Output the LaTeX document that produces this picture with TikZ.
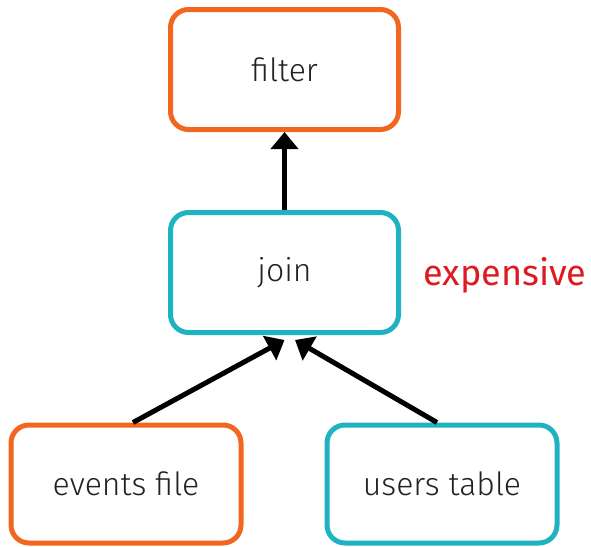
\documentclass[tikz,border=0pt]{standalone}
\usepackage{fontspec}
\setmainfont{Fira Sans}
\newfontfamily\lightfont{Fira Sans Light}
\usetikzlibrary{arrows.meta}
\definecolor{borange}{HTML}{F2671F}
\definecolor{bteal}{HTML}{1FB3C1}
\definecolor{ered}{HTML}{DD1A22}
\definecolor{txt}{HTML}{222222}
\tikzset{
  box/.style={draw=#1, rectangle, rounded corners=18pt, line width=5pt,
    minimum width=228pt, minimum height=120pt, text=txt, font=\lightfont\fontsize{32}{36}\selectfont, inner sep=0pt},
  arr/.style={line width=5pt, -{Triangle[width=27pt,length=17pt]}}
}
\begin{document}
\begin{tikzpicture}[x=1pt,y=-1pt]
\useasboundingbox (0,0) rectangle (591,546);
\node[box=borange] (filter) at (284.5,69.5) {filter};
\node[box=bteal] (join) at (284.5,272.5) {join};
\node[box=borange, minimum width=230pt, minimum height=118pt] (events) at (126,484) {events file};
\node[box=bteal, minimum width=230pt, minimum height=118pt] (users) at (442,484) {users table};
\node[text=ered, font=\fontsize{36}{40}\selectfont, anchor=center] (exp) at (505,275) {expensive};
\draw[arr] (join.north) -- (filter.south);
\draw[arr] ([xshift=7pt]events.north) -- ([yshift=-5pt]join.south);
\draw[arr] ([xshift=-5pt]users.north) -- ([xshift=10.5pt,yshift=-5pt]join.south);
\end{tikzpicture}
\end{document}
